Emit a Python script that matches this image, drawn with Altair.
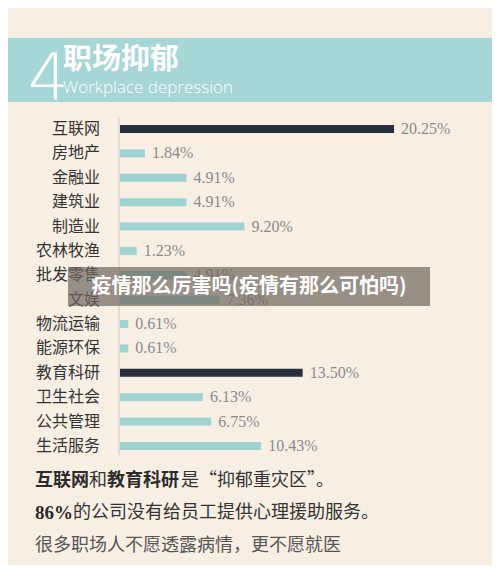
import altair as alt
import pandas as pd

categories = ["互联网", "房地产", "金融业", "建筑业", "制造业", "农林牧渔", "批发零售",
              "文娱", "物流运输", "能源环保", "教育科研", "卫生社会", "公共管理", "生活服务"]
values = [20.25, 1.84, 4.91, 4.91, 9.20, 1.23, 4.91, 7.36, 0.61, 0.61, 13.50, 6.13, 6.75, 10.43]
value_labels = ["20.25%", "1.84%", "4.91%", "4.91%", "9.20%", "1.23%", "4.91%",
                "7.36%", "0.61%", "0.61%", "13.50%", "6.13%", "6.75%", "10.43%"]
highlight = ["互联网", "教育科研"]

df = pd.DataFrame({
    "cat": categories,
    "val": values,
    "lab": value_labels,
    "hl": ["yes" if c in highlight else "no" for c in categories],
})

BG = "#f8efe4"
CJK = "Noto Sans CJK SC"
SERIF = "Liberation Serif"

yscale = alt.Scale(domain=categories, range=[108.8, 450.2], paddingInner=0, paddingOuter=0)
xscale = alt.Scale(domain=[0, 20.25], range=[112, 386], nice=False, zero=True)

base = alt.Chart(df)

bars = base.mark_bar(size=8).encode(
    y=alt.Y("cat:N", scale=yscale, axis=None, sort=categories),
    x=alt.X("val:Q", scale=xscale, axis=None),
    color=alt.Color("hl:N", scale=alt.Scale(domain=["yes", "no"], range=["#262f3b", "#9fd3d2"]), legend=None),
)

vlabels = base.mark_text(align="left", baseline="middle", dx=7, fontSize=16, font=SERIF, color="#8a8a8a").encode(
    y=alt.Y("cat:N", scale=yscale, axis=None, sort=categories),
    x=alt.X("val:Q", scale=xscale, axis=None),
    text="lab:N",
)

clabels = base.mark_text(align="right", baseline="middle", fontSize=16, font=CJK, color="#333333").encode(
    y=alt.Y("cat:N", scale=yscale, axis=None, sort=categories),
    x=alt.value(92),
    text="cat:N",
)

one = alt.Data(values=[{"k": 1}])

def txt(s, x, y, size, color, weight="normal", font=CJK, align="left", baseline="middle"):
    return alt.Chart(one).mark_text(
        text=s, align=align, baseline=baseline, fontSize=size, font=font,
        fontWeight=weight, color=color
    ).encode(x=alt.value(x), y=alt.value(y))

def rect(x, x2, y, y2, color, opacity=1.0):
    return alt.Chart(one).mark_rect(color=color, opacity=opacity).encode(
        x=alt.value(x), x2=alt.value(x2), y=alt.value(y), y2=alt.value(y2)
    )

axis_line = alt.Chart(one).mark_rule(color="#cfc8bf", strokeWidth=1).encode(
    x=alt.value(111), y=alt.value(109), y2=alt.value(447)
)

header = rect(0, 484, 30, 94, "#a6d6d5")
h4 = txt("4", 20, 91, 64, "#ffffff", weight=200, font="DejaVu Sans", baseline="alphabetic")
htitle = txt("职场抑郁", 55, 52, 29, "#ffffff", weight="bold")
hsub = txt("Workplace depression", 55, 85, 17, "#ffffff", weight=300, font="Open Sans", baseline="alphabetic")

line1 = [
    txt("互联网", 27, 473, 18, "#2b2b2b", weight="bold"),
    txt("和", 81, 473, 18, "#333333"),
    txt("教育科研", 99, 473, 18, "#2b2b2b", weight="bold"),
    txt("是“抑郁重灾区”。", 173, 473, 18, "#333333"),
]
line2 = [
    txt("86%", 27, 505, 19, "#2b2b2b", weight="bold", font=SERIF),
    txt("的公司没有给员工提供心理援助服务。", 65, 505, 18, "#333333"),
]
line3 = [txt("很多职场人不愿透露病情，更不愿就医", 27, 538, 18, "#555555")]

wm_box = rect(60, 422, 259, 298, "#6f6760", 0.7)
wm_text = txt("疫情那么厉害吗(疫情有那么可怕吗)", 241, 279, 20, "#ffffff", weight="bold", align="center")

chart = alt.layer(
    header, h4, htitle, hsub, axis_line, bars, vlabels, clabels,
    *line1, *line2, *line3, wm_box, wm_text
).properties(
    width=484, height=557, background=BG, padding=0, autosize="none"
).configure_view(stroke=None)

chart.save("out.html", embed_options={"renderer": "svg", "actions": False})
